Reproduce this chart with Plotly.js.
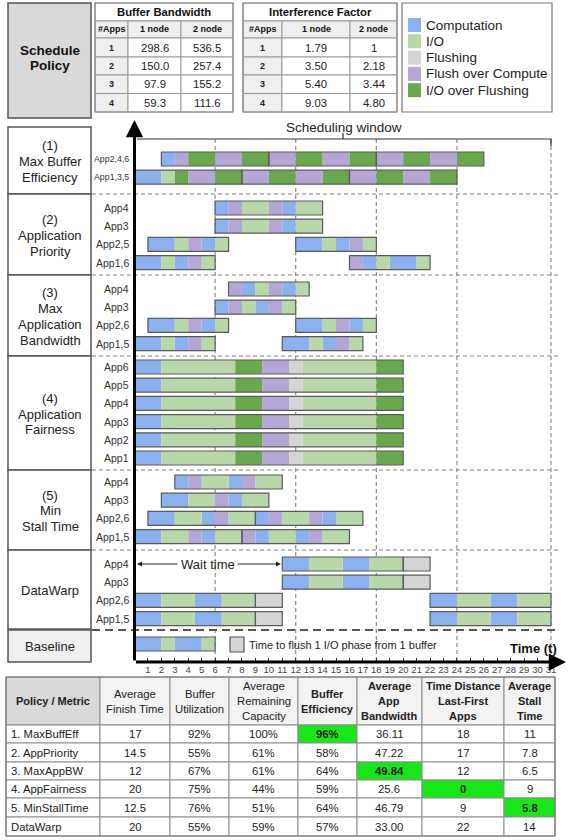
<!DOCTYPE html>
<html><head><meta charset="utf-8">
<script src="https://cdn.plot.ly/plotly-3.0.1.min.js"></script>
<style>html,body{margin:0;padding:0;background:#fff}#chart{width:568px;height:840px}</style>
</head><body><div id="chart"></div>
<script>
// ================= DATA =================
const categories = ['Computation','I/O','Flushing','Flush over Compute','I/O over Flushing'];
const catKeys    = ['C','IO','F','FoC','IoF'];

const bbTitle = 'Buffer Bandwidth';
const ifTitle = 'Interference Factor';
const smallHeaders = ['#Apps','1 node','2 node'];
const bbApps  = ['1','2','3','4'];
const bb1node = ['298.6','150.0','97.9','59.3'];
const bb2node = ['536.5','257.4','155.2','111.6'];
const ifApps  = ['1','2','3','4'];
const if1node = ['1.79','3.50','5.40','9.03'];
const if2node = ['1','2.18','3.44','4.80'];

const policyLabels = [['(1)','Max Buffer','Efficiency'],['(2)','Application','Priority'],['(3)','Max','Application','Bandwidth'],['(4)','Application','Fairness'],['(5)','Min','Stall Time'],['DataWarp'],['Baseline']];

// each row: list of runs (outlined boxes); each run: [phase, start, end]
const maxBuffEffRows = ['App2,4,6','App1,3,5'];
const maxBuffEffRuns = [
  [[['C',2,3],['FoC',3,4],['IoF',4,6],['FoC',6,8],['IoF',8,10]],
   [['FoC',10,12],['IoF',12,14],['FoC',14,16],['IoF',16,18]],
   [['FoC',18,20],['IoF',20,22],['FoC',22,24],['IoF',24,26]]],
  [[['C',0,2],['IO',2,3],['IoF',3,4],['FoC',4,6],['IoF',6,8]],
   [['FoC',8,10],['IoF',10,12],['FoC',12,14],['IoF',14,16]],
   [['FoC',16,18],['IoF',18,20],['FoC',20,22],['IoF',22,24]]]
];
const appPriorityRows = ['App4','App3','App2,5','App1,6'];
const appPriorityRuns = [
  [[['C',6,7],['FoC',7,8],['IO',8,10],['FoC',10,11],['C',11,12],['IO',12,14]]],
  [[['C',6,7],['FoC',7,8],['IO',8,10],['FoC',10,11],['C',11,12],['IO',12,14]]],
  [[['C',1,3],['IO',3,4],['FoC',4,5],['C',5,6],['IO',6,7]],
   [['C',12,14],['IO',14,15],['C',15,16],['FoC',16,17],['IO',17,18]]],
  [[['C',0,2],['IO',2,3],['C',3,4],['FoC',4,5],['IO',5,6]],
   [['FoC',16,17],['C',17,18],['IO',18,19],['C',19,21],['IO',21,22]]]
];
const maxAppBWRows = ['App4','App3','App2,6','App1,5'];
const maxAppBWRuns = [
  [[['FoC',7,8],['C',8,9],['IO',9,10],['FoC',10,11],['C',11,12],['IO',12,13]]],
  [[['C',6,7],['FoC',7,8],['IO',8,9],['C',9,10],['FoC',10,11],['IO',11,12]]],
  [[['C',1,3],['IO',3,4],['FoC',4,5],['C',5,6],['IO',6,7]],
   [['C',12,14],['IO',14,15],['FoC',15,16],['C',16,17],['IO',17,18]]],
  [[['C',0,2],['IO',2,3],['C',3,4],['FoC',4,5],['IO',5,6]],
   [['C',11,13],['IO',13,14],['C',14,15],['FoC',15,16],['IO',16,17]]]
];
const appFairnessRows = ['App6','App5','App4','App3','App2','App1'];
const appFairnessRuns = [
  [[['C',0,2],['IO',2,7.5],['IoF',7.5,9.5],['FoC',9.5,11.5],['F',11.5,12.5],['IO',12.5,18],['IoF',18,20]]],
  [[['C',0,2],['IO',2,7.5],['IoF',7.5,9.5],['FoC',9.5,11.5],['F',11.5,12.5],['IO',12.5,18],['IoF',18,20]]],
  [[['C',0,2],['IO',2,7.5],['IoF',7.5,9.5],['FoC',9.5,11.5],['F',11.5,12.5],['IO',12.5,18],['IoF',18,20]]],
  [[['C',0,2],['IO',2,7.5],['IoF',7.5,9.5],['FoC',9.5,11.5],['F',11.5,12.5],['IO',12.5,18],['IoF',18,20]]],
  [[['C',0,2],['IO',2,7.5],['IoF',7.5,9.5],['FoC',9.5,11.5],['F',11.5,12.5],['IO',12.5,18],['IoF',18,20]]],
  [[['C',0,2],['IO',2,7.5],['IoF',7.5,9.5],['FoC',9.5,11.5],['F',11.5,12.5],['IO',12.5,18],['IoF',18,20]]]
];
const minStallRows = ['App4','App3','App2,6','App1,5'];
const minStallRuns = [
  [[['C',3,4],['FoC',4,5],['IO',5,7],['C',7,8],['FoC',8,9],['IO',9,11]]],
  [[['C',2,4],['IO',4,6],['FoC',6,7],['C',7,8],['IO',8,10]]],
  [[['C',1,3],['IO',3,5],['C',5,6],['FoC',6,7],['IO',7,9]],
   [['C',9,10],['FoC',10,11],['IO',11,13],['FoC',13,14],['C',14,15],['IO',15,17]]],
  [[['C',0,2],['IO',2,4],['FoC',4,5],['C',5,6],['IO',6,8]],
   [['FoC',8,9],['C',9,10],['IO',10,12],['C',12,13],['FoC',13,14],['IO',14,16]]]
];
const dataWarpRows = ['App4','App3','App2,6','App1,5'];
const dataWarpRuns = [
  [[['C',11,13],['IO',13,15.5],['C',15.5,17.5],['IO',17.5,20]],[['F',20,22]]],
  [[['C',11,13],['IO',13,15.5],['C',15.5,17.5],['IO',17.5,20]],[['F',20,22]]],
  [[['C',0,2],['IO',2,4.5],['C',4.5,6.5],['IO',6.5,9]],[['F',9,11]],
   [['C',22,24],['IO',24,26.5],['C',26.5,28.5],['IO',28.5,31]]],
  [[['C',0,2],['IO',2,4.5],['C',4.5,6.5],['IO',6.5,9]],[['F',9,11]],
   [['C',22,24],['IO',24,26.5],['C',26.5,28.5],['IO',28.5,31]]]
];
const baselineRows = [''];
const baselineRuns = [
  [[['C',0,2],['IO',2,3],['C',3,5],['IO',5,6]]]
];
const timeTicks = [1,2,3,4,5,6,7,8,9,10,11,12,13,14,15,16,17,18,19,20,21,22,23,24,25,26,27,28,29,30,31];
const windowMarks = [6,12,18,24,31];

const metricHeaders = [['Policy / Metric'],['Average','Finish Time'],['Buffer','Utilization'],['Average','Remaining','Capacity'],['Buffer','Efficiency'],['Average','App','Bandwidth'],['Time Distance','Last-First','Apps'],['Average','Stall','Time']];
const policyNames  = ['1. MaxBuffEff','2. AppPriority','3. MaxAppBW','4. AppFairness','5. MinStallTime','DataWarp'];
const finishTime   = ['17','14.5','12','20','12.5','20'];
const bufferUtil   = ['92%','55%','67%','75%','76%','55%'];
const remainingCap = ['100%','61%','61%','44%','51%','59%'];
const bufferEff    = ['96%','58%','64%','59%','64%','57%'];
const appBW        = ['36.11','47.22','49.84','25.6','46.79','33.00'];
const timeDist     = ['18','17','12','0','9','22'];
const stallTime    = ['11','7.8','6.5','9','5.8','14'];

// ================= STYLE / LAYOUT =================
const catColors = ['#8bb1ee','#b8d8aa','#d5d5d5','#b4a7d6','#6aa84f'];
const FONT = 'Liberation Sans, Arial, sans-serif';
const W = 568, H = 840;
const T0 = 134.5, UNIT = 13.435, XMIN = -0.2, XMAX = 31.6;
const px = x => x / W, py = y => 1 - y / H, tpx = t => T0 + t * UNIT;
const shapes = [], annotations = [];
function rect(x0,y0,x1,y1,fill,lc,lw,layer){
  shapes.push({type:'rect',xref:'paper',yref:'paper',x0:px(x0),x1:px(x1),y0:py(y1),y1:py(y0),
    fillcolor:fill||'rgba(0,0,0,0)',line:{color:lc||'rgba(0,0,0,0)',width:lw==null?1:lw},layer:layer||'above'});
}
function seg(x0,y0,x1,y1,color,w,dash,layer){
  shapes.push({type:'line',xref:'paper',yref:'paper',x0:px(x0),x1:px(x1),y0:py(y0),y1:py(y1),
    line:{color:color,width:w,dash:dash||'solid'},layer:layer||'above'});
}
function txt(x,y,s,size,o){
  o = o||{};
  annotations.push({xref:'paper',yref:'paper',x:px(x),y:py(y),text:s,showarrow:false,
    xanchor:o.xanchor||'center',yanchor:'middle',align:o.xanchor==='left'?'left':'center',
    font:{family:FONT,size:size,color:o.color||'#222'}});
}
function arrow(hx,hy,ax,ay,w,head,size,color){
  annotations.push({xref:'paper',yref:'paper',x:px(hx),y:py(hy),ax:ax,ay:ay,text:'',showarrow:true,
    arrowhead:head,arrowsize:size,arrowwidth:w,arrowcolor:color||'#000'});
}

// ---------- Gantt bars ----------
const sections = [
  [maxBuffEffRows, maxBuffEffRuns],[appPriorityRows, appPriorityRuns],[maxAppBWRows, maxAppBWRuns],
  [appFairnessRows, appFairnessRuns],[minStallRows, minStallRuns],[dataWarpRows, dataWarpRuns],[baselineRows, baselineRuns]
];
const firstRowY = [159, 208, 289, 367, 482, 564, 644];
const ROW_STEP = 18.2, BAR_H = 14;
const segData = catKeys.map(() => ({y:[],x:[],base:[]}));
const boxData = {y:[],x:[],base:[]};
sections.forEach((sec, si) => {
  const [rows, runs] = sec;
  rows.forEach((name, ri) => {
    const y = firstRowY[si] + ri * ROW_STEP;
    if (name) txt(131, y, name, si === 0 ? 8.8 : 10.5, {xanchor:'right', color:'#333'});
    runs[ri].forEach(run => {
      run.forEach(([k, s, e]) => {
        const d = segData[catKeys.indexOf(k)];
        d.y.push(y); d.x.push(e - s); d.base.push(s);
      });
      boxData.y.push(y); boxData.base.push(run[0][1]); boxData.x.push(run[run.length-1][2] - run[0][1]);
    });
  });
});
const traces = catKeys.map((k, i) => ({
  type:'bar', orientation:'h', name:categories[i], y:segData[i].y, x:segData[i].x, base:segData[i].base,
  width:BAR_H, marker:{color:catColors[i], line:{width:0}}, hoverinfo:'skip', showlegend:false
}));
traces.push({type:'bar', orientation:'h', name:'runs', y:boxData.y, x:boxData.x, base:boxData.base, width:BAR_H,
  marker:{color:'rgba(0,0,0,0)', line:{color:'#5a5a5a', width:1.2}}, hoverinfo:'skip', showlegend:false});

// ---------- grid / separators ----------
windowMarks.forEach(t => seg(tpx(t), 139, tpx(t), 662, '#808080', 1.1, '4px,3px', 'below'));
[194, 275, 356, 470, 550].forEach(y => seg(92, y, 558, y, '#808080', 1.1, '4px,3px', 'below'));
seg(92, 630, 558, 630, '#555', 2, '8px,5px', 'below');

// scheduling window bracket
shapes.push({type:'path', xref:'paper', yref:'paper', layer:'above',
  path:`M ${px(137)},${py(139)} L ${px(tpx(31))},${py(139)} L ${px(tpx(31))},${py(146)}`, line:{color:'#333',width:1.2}});
seg(343, 139, 343, 133, '#333', 1.2);
txt(344, 127, 'Scheduling window', 13.5, {color:'#222'});

// ---------- left policy column ----------
rect(8, 3, 91, 118, '#d9d9d9', '#555', 1.5);
txt(50, 50, '<b>Schedule</b>', 13.5, {color:'#111'});
txt(50, 66, '<b>Policy</b>', 13.5, {color:'#111'});
const boxTop = [127, 194, 275, 356, 470, 550, 630];
const boxBot = [194, 275, 356, 470, 550, 629, 662];
policyLabels.forEach((lines, i) => {
  rect(8, boxTop[i], 91, boxBot[i], i === 6 ? '#efefef' : '#ffffff', '#555', 1.5);
  const c = (boxTop[i] + boxBot[i]) / 2 + (i < 6 ? 1 : 0);
  lines.forEach((l, j) => txt(50, c + (j - (lines.length - 1) / 2) * 15.7, l, 13, {color:'#222'}));
});

// ---------- top small tables ----------
function smallTable(title, colX, cols){
  const rowY = [3, 21, 38, 57, 75, 93.5, 112];
  rect(colX[0], rowY[0], colX[3], rowY[1], '#fff', '#999', 1);
  txt((colX[0] + colX[3]) / 2, (rowY[0] + rowY[1]) / 2 + 0.5, '<b>' + title + '</b>', 11.3, {color:'#111'});
  smallHeaders.forEach((h, j) => {
    rect(colX[j], rowY[1], colX[j+1], rowY[2], '#efefef', '#999', 1);
    txt((colX[j] + colX[j+1]) / 2, (rowY[1] + rowY[2]) / 2, '<b>' + h + '</b>', 9, {color:'#111'});
  });
  cols[0].forEach((_, r) => {
    cols.forEach((col, j) => {
      rect(colX[j], rowY[r+2], colX[j+1], rowY[r+3], j === 0 ? '#efefef' : '#fff', '#999', 1);
      txt((colX[j] + colX[j+1]) / 2, (rowY[r+2] + rowY[r+3]) / 2,
        j === 0 ? '<b>' + col[r] + '</b>' : col[r], j === 0 ? 9 : 11.3, {color:'#222'});
    });
  });
  rect(colX[0], rowY[0], colX[3], rowY[6], null, '#888', 1.2);
}
smallTable(bbTitle, [95, 128, 181, 233], [bbApps, bb1node, bb2node]);
smallTable(ifTitle, [243, 282, 350, 397], [ifApps, if1node, if2node]);

// ---------- legend ----------
rect(402, 3, 552, 112, '#fff', '#777', 1.2);
categories.forEach((c, i) => {
  const yc = 25 + i * 16.3;
  rect(408, yc - 7, 421, yc + 7, catColors[i], null, 0);
  txt(424, yc, c, 13.5, {xanchor:'left', color:'#222'});
});

// ---------- axes arrows ----------
arrow(134.5, 120, 0, 542, 3, 2, 1.15, '#000');
arrow(566, 662, -(566 - 134.5), 0, 3, 2, 1.15, '#000');
txt(533, 648, '<b>Time (t)</b>', 13, {color:'#111'});

// wait time
arrow(137, 564, 42, 0, 1, 2, 1, '#222');
arrow(281, 564, -45, 0, 1, 2, 1, '#222');
txt(207.5, 564, 'Wait time', 13, {color:'#222'});

// flush legend near baseline
rect(230, 637, 244, 652, catColors[2], '#555', 1.2);
txt(247, 645, 'Time to flush 1 I/O phase from 1 buffer', 11, {xanchor:'left', color:'#222'});

// ---------- bottom metrics table ----------
const tableCols = [policyNames, finishTime, bufferUtil, remainingCap, bufferEff, appBW, timeDist, stallTime];
const argBest = (arr, mode) => { const v = arr.map(parseFloat); const b = mode === 'max' ? Math.max(...v) : Math.min(...v); return v.indexOf(b); };
const bestRow = {4: argBest(bufferEff,'max'), 5: argBest(appBW,'max'), 6: argBest(timeDist,'min'), 7: argBest(stallTime,'min')};
const colEdges = [6, 100, 170, 229, 298, 357, 422, 504, 555];
const rowEdges = [677, 725, 743, 762, 780, 798, 817, 836];
metricHeaders.forEach((lines, j) => {
  rect(colEdges[j], rowEdges[0], colEdges[j+1], rowEdges[1], j === 0 ? '#d9d9d9' : '#f3f3f3', '#8c8c8c', 1);
  const bold = (j === 0 || j >= 4);
  const c = (rowEdges[0] + rowEdges[1]) / 2;
  lines.forEach((l, k) => txt((colEdges[j] + colEdges[j+1]) / 2, c + (k - (lines.length - 1) / 2) * 15,
    bold ? '<b>' + l + '</b>' : l, bold ? 11 : 11.3, {color:'#222'}));
});
policyNames.forEach((_, r) => {
  const yc = (rowEdges[r+1] + rowEdges[r+2]) / 2;
  tableCols.forEach((col, j) => {
    const hi = bestRow[j] === r;
    rect(colEdges[j], rowEdges[r+1], colEdges[j+1], rowEdges[r+2], hi ? '#19e619' : '#ffffff', '#8c8c8c', 1);
    if (j === 0) txt(colEdges[0] + 3, yc, col[r], 11.3, {xanchor:'left', color:'#222'});
    else txt((colEdges[j] + colEdges[j+1]) / 2, yc, hi ? '<b>' + col[r] + '</b>' : col[r], 11.3, {color:'#222'});
  });
});
rect(colEdges[0], rowEdges[0], colEdges[8], rowEdges[7], null, '#777', 1.2);

const layout = {
  width: W, height: H, margin:{l:0,r:0,t:0,b:0}, paper_bgcolor:'#fff', plot_bgcolor:'rgba(0,0,0,0)',
  barmode:'overlay', showlegend:false, font:{family:FONT},
  xaxis:{domain:[tpx(XMIN)/W, tpx(XMAX)/W], range:[XMIN, XMAX], anchor:'free', position:py(662),
    showline:false, zeroline:false, showgrid:false, tickmode:'array', tickvals:timeTicks, ticktext:timeTicks.map(String),
    ticks:'inside', ticklen:4, tickwidth:1, tickcolor:'#333', tickfont:{family:FONT, size:9.5, color:'#444'}, fixedrange:true},
  yaxis:{domain:[0,1], range:[H,0], visible:false, fixedrange:true},
  shapes: shapes, annotations: annotations
};
Plotly.newPlot('chart', traces, layout, {displayModeBar:false, staticPlot:true});
</script>
</body></html>
